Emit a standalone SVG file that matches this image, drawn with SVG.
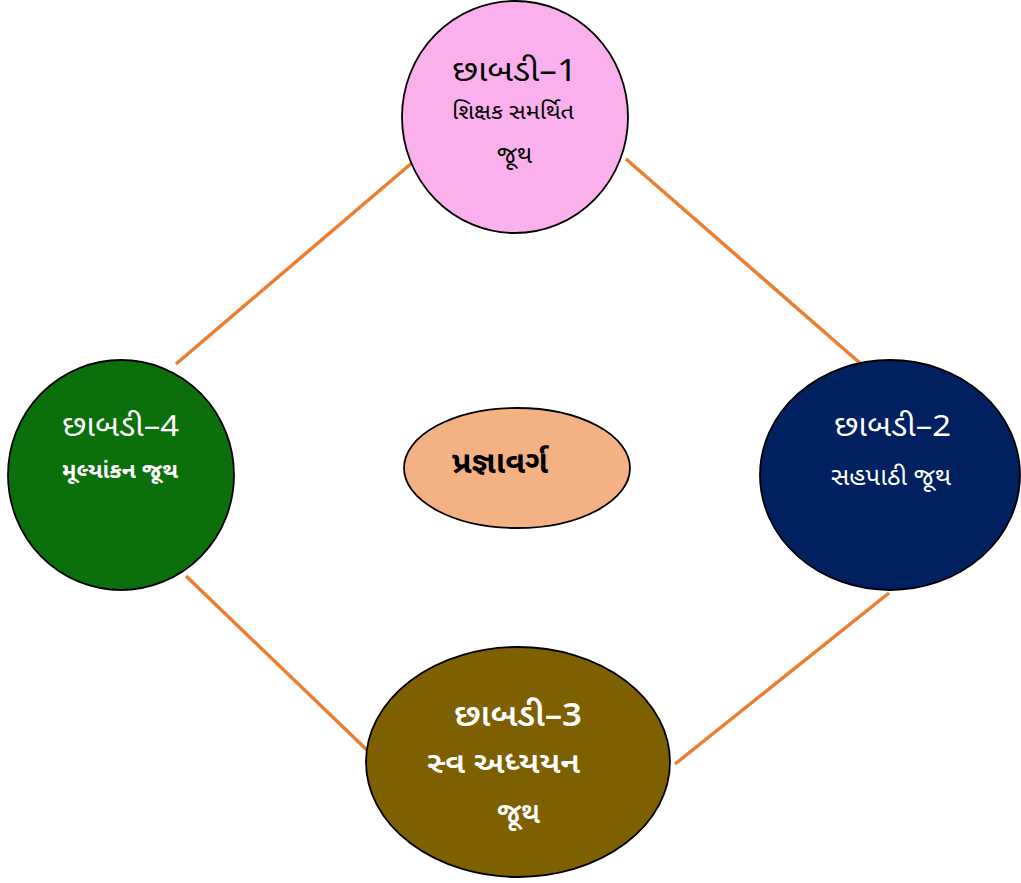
<svg xmlns="http://www.w3.org/2000/svg" width="1021" height="883" viewBox="0 0 1021 883">
<style>
.n{stroke:#000;stroke-width:1.8}
.c{stroke:#ED7D31;stroke-width:3.5;fill:none}
text{font-family:"Noto Sans Gujarati","Noto Sans","Liberation Sans",sans-serif;text-anchor:middle}
.dk{fill:#000}
.wt{fill:#fff}
</style>
<rect width="1021" height="883" fill="#fff"/>
<g id="connectors">
<line class="c" x1="413" y1="162" x2="176" y2="364"/>
<line class="c" x1="626" y1="159" x2="861" y2="364"/>
<line class="c" x1="186" y1="576" x2="369" y2="752"/>
<line class="c" x1="889" y1="593" x2="675" y2="764"/>
</g>
<g id="node1">
<ellipse class="n" cx="515" cy="117" rx="113" ry="116" fill="#F9B0EC"/>
<text class="dk" x="514.5" y="81" font-size="30" textLength="125" lengthAdjust="spacingAndGlyphs">છાબડી–1</text>
<text class="dk" x="513" y="119" font-size="22" textLength="122" lengthAdjust="spacingAndGlyphs">શિક્ષક સમર્થિત</text>
<text class="dk" x="514.5" y="163" font-size="25" textLength="35" lengthAdjust="spacingAndGlyphs">જૂથ</text>
</g>
<g id="node2">
<ellipse class="n" cx="890" cy="475" rx="130" ry="115" fill="#002060"/>
<text class="wt" x="892.5" y="436" font-size="29" textLength="117" lengthAdjust="spacingAndGlyphs">છાબડી–2</text>
<text class="wt" x="891" y="485" font-size="24" textLength="120" lengthAdjust="spacingAndGlyphs">સહપાઠી જૂથ</text>
</g>
<g id="node3">
<ellipse class="n" cx="518" cy="762" rx="152" ry="115" fill="#7F6000"/>
<text class="wt" x="518" y="726" font-size="32" font-weight="600" textLength="128" lengthAdjust="spacingAndGlyphs">છાબડી–3</text>
<text class="wt" x="503.5" y="773" font-size="30" font-weight="600" textLength="153" lengthAdjust="spacingAndGlyphs">સ્વ અધ્યયન</text>
<text class="wt" x="518.5" y="823" font-size="30" font-weight="600" textLength="43" lengthAdjust="spacingAndGlyphs">જૂથ</text>
</g>
<g id="node4">
<ellipse class="n" cx="121" cy="475" rx="113" ry="115" fill="#0B700B"/>
<text class="wt" x="120.5" y="436" font-size="29" textLength="117" lengthAdjust="spacingAndGlyphs">છાબડી–4</text>
<text class="wt" x="120" y="478" font-size="22" font-weight="bold" textLength="116" lengthAdjust="spacingAndGlyphs">મૂલ્યાંકન જૂથ</text>
</g>
<g id="center">
<ellipse class="n" cx="517" cy="468" rx="113" ry="60" fill="#F4B183"/>
<text class="dk" x="500" y="473" font-size="31" font-weight="bold" textLength="96" lengthAdjust="spacingAndGlyphs">પ્રજ્ઞાવર્ગ</text>
</g>
</svg>
